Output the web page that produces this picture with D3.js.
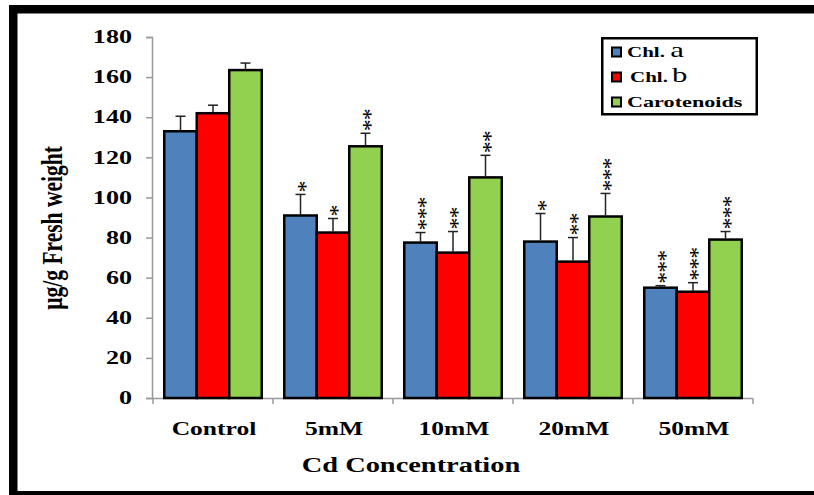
<!DOCTYPE html>
<html>
<head>
<meta charset="utf-8">
<script src="https://cdn.jsdelivr.net/npm/d3@7"></script>
<style>
  html, body { margin: 0; padding: 0; background: #fff; }
  svg { display: block; }
  svg text { font-family: "Liberation Serif", "Times New Roman", serif; font-weight: bold; }
</style>
</head>
<body>
<svg id="chart" width="814" height="495"></svg>
<script>
// ---- data ----
const categories = ["Control", "5mM", "10mM", "20mM", "50mM"];
const seriesNames = ["Chl. a", "Chl. b", "Carotenoids"];
const chlA = [133, 91, 77.5, 78, 55];
const chlB = [142, 82.5, 72.5, 68, 53];
const carotenoids = [163.5, 125.5, 110, 90.5, 79];
const chlAErr = [7.5, 10.5, 5, 14, 1];
const chlBErr = [4, 7, 10.5, 12, 4.5];
const carotenoidsErr = [3.5, 6.5, 11, 11.5, 4];
const chlAStars = [0, 1, 3, 1, 3];
const chlBStars = [0, 1, 2, 2, 3];
const carotenoidsStars = [0, 2, 2, 3, 3];
const yTicks = [0, 20, 40, 60, 80, 100, 120, 140, 160, 180];
const colors = ["#4f81bd", "#ff0000", "#92d050"];

const series = [
  { name: seriesNames[0], values: chlA, err: chlAErr, stars: chlAStars },
  { name: seriesNames[1], values: chlB, err: chlBErr, stars: chlBStars },
  { name: seriesNames[2], values: carotenoids, err: carotenoidsErr, stars: carotenoidsStars }
];

// horizontal stretch of text (reference type is wide)
function stretch(sel, sx) {
  sel.each(function () {
    const t = d3.select(this);
    const x = +t.attr("x") || 0, yy = +t.attr("y") || 0;
    t.attr("x", 0).attr("y", 0).attr("transform", `translate(${x},${yy}) scale(${sx},1)`);
  });
}

const svg = d3.select("#chart");

// outer frame
svg.append("rect")
  .attr("x", 13.25).attr("y", 9.25)
  .attr("width", 830).attr("height", 486)
  .attr("fill", "none").attr("stroke", "#000").attr("stroke-width", 8.5);

const x0 = d3.scaleBand().domain(categories).range([153, 753])
  .paddingInner(0.1875).paddingOuter(0.09375);
const x1 = d3.scaleBand().domain(seriesNames).range([0, x0.bandwidth()]);
const y = d3.scaleLinear().domain([0, 180]).range([398, 37]);

// y axis
const yAxis = svg.append("g").attr("transform", "translate(152,0)")
  .call(d3.axisLeft(y).tickValues(yTicks).tickSize(6).tickPadding(14));
yAxis.select(".domain").attr("stroke", "#999").attr("stroke-width", 1.5);
yAxis.selectAll(".tick line").attr("stroke", "#999").attr("stroke-width", 1.5);
const tickTexts = yAxis.selectAll(".tick text").attr("font-size", 18).attr("fill", "#000");
stretch(tickTexts, 1.45);

// x axis
const step = x0.step();
const xStart = 153;
svg.append("line").attr("x1", xStart).attr("x2", 753).attr("y1", 398.5).attr("y2", 398.5)
  .attr("stroke", "#999").attr("stroke-width", 1.5);
d3.range(categories.length + 1).forEach(i => {
  svg.append("line").attr("x1", xStart + i * step).attr("x2", xStart + i * step)
    .attr("y1", 398.5).attr("y2", 404).attr("stroke", "#999").attr("stroke-width", 1.5);
});
const catLabels = svg.selectAll(".xlab").data(categories).enter().append("text")
  .attr("x", d => x0(d) + x0.bandwidth() / 2 + 1)
  .attr("y", 435)
  .attr("text-anchor", "middle")
  .attr("font-size", 18)
  .text(d => d);
stretch(catLabels, 1.42);

// bars
const groups = svg.selectAll(".grp").data(categories).enter().append("g")
  .attr("transform", d => `translate(${x0(d)},0)`);

series.forEach((s, si) => {
  groups.append("rect")
    .attr("x", x1(s.name))
    .attr("y", (d, i) => y(s.values[i]))
    .attr("width", x1.bandwidth())
    .attr("height", (d, i) => y(0) - y(s.values[i]))
    .attr("fill", colors[si]).attr("stroke", "#000").attr("stroke-width", 2.5);
});

// error bars + significance stars (each stack is one text, set vertically)
const STAR = 24;
series.forEach((s, si) => {
  groups.each(function (d, i) {
    const g = d3.select(this);
    const cx = x1(s.name) + x1.bandwidth() / 2;
    const top = y(s.values[i] + s.err[i]);
    const base = y(s.values[i]);
    g.append("line").attr("x1", cx).attr("x2", cx).attr("y1", base - 1).attr("y2", top)
      .attr("stroke", "#222").attr("stroke-width", 1.5);
    g.append("line").attr("x1", cx - 5).attr("x2", cx + 5).attr("y1", top).attr("y2", top)
      .attr("stroke", "#222").attr("stroke-width", 1.5);
    if (s.stars[i] > 0) {
      g.append("text")
        .attr("transform", `translate(${cx + STAR * 0.5},${top - 2}) rotate(-90)`)
        .attr("text-anchor", "start")
        .attr("letter-spacing", -1)
        .style("font-weight", "normal")
        .attr("font-size", STAR).attr("fill", "#000")
        .text("*".repeat(s.stars[i]));
    }
  });
});

// axis titles
svg.append("text")
  .attr("transform", "translate(62,228) rotate(-90) scale(1,1.4)")
  .attr("text-anchor", "middle").attr("font-size", 21.5)
  .text("µg/g Fresh weight");
const xTitle = svg.append("text")
  .attr("x", 411).attr("y", 472)
  .attr("text-anchor", "middle").attr("font-size", 20)
  .text("Cd Concentration");
stretch(xTitle, 1.42);

// legend
const lg = svg.append("g");
lg.append("rect").attr("x", 602.25).attr("y", 38.25).attr("width", 154.5).attr("height", 76)
  .attr("fill", "#fff").attr("stroke", "#000").attr("stroke-width", 2.5);
const rowsY = [52, 77, 102];
series.forEach((s, si) => {
  lg.append("rect").attr("x", 612).attr("y", rowsY[si] - 4.5).attr("width", 9).attr("height", 9)
    .attr("fill", colors[si]).attr("stroke", "#000").attr("stroke-width", 2);
});
const t0 = lg.append("text").attr("x", 627).attr("y", rowsY[0] + 5).attr("font-size", 15);
t0.append("tspan").text("Chl. ");
t0.append("tspan").attr("font-size", 22).style("font-weight", "normal").text("a");
const t1 = lg.append("text").attr("x", 630).attr("y", rowsY[1] + 5).attr("font-size", 15);
t1.append("tspan").text("Chl.");
t1.append("tspan").attr("font-size", 22).style("font-weight", "normal").attr("dx", 3).text("b");
const t2 = lg.append("text").attr("x", 627).attr("y", rowsY[2] + 5).attr("font-size", 15)
  .text("Carotenoids");
stretch(t0, 1.4);
stretch(t1, 1.4);
stretch(t2, 1.48);
</script>
</body>
</html>
